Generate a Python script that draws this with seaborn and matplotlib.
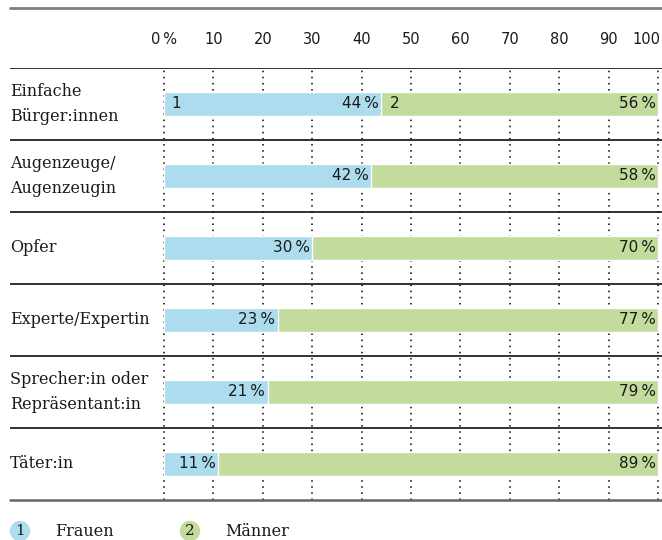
import matplotlib
matplotlib.use("Agg")
import matplotlib.pyplot as plt
import seaborn as sns
import pandas as pd

# data
categories = ["Einfache\nBürger:innen", "Augenzeuge/\nAugenzeugin", "Opfer",
              "Experte/Expertin", "Sprecher:in oder\nRepräsentant:in", "Täter:in"]
frauen = [44, 42, 30, 23, 21, 11]
maenner = [56, 58, 70, 77, 79, 89]
ticks = [0, 10, 20, 30, 40, 50, 60, 70, 80, 90, 100]
tick_labels = ["0\u2009%", "10", "20", "30", "40", "50", "60", "70", "80", "90", "100"]

blue = "#acdcee"
green = "#c3dc9d"
serif = "DejaVu Serif"
sans = "DejaVu Sans"

sns.set_theme(style="white")
W, H = 662, 540
fig = plt.figure(figsize=(W / 100, H / 100), dpi=100)

# axes: x from 10px to 662px, y from 68px to 500px
ax = fig.add_axes([10 / W, 1 - 500 / H, 652 / W, 432 / H])
px = 494 / 100  # pixels per unit
x_left = -154 / px

df = pd.DataFrame({"cat": categories, "frauen": frauen, "maenner": maenner})
df["total"] = df["frauen"] + df["maenner"]

# dotted grid
for t in ticks:
    ax.axvline(t, color="black", lw=1.1, ls=(0, (1, 3)), zorder=0)

sns.barplot(data=df, y="cat", x="total", orient="h", color=green, width=0.32,
            saturation=1, ax=ax, zorder=2)
sns.barplot(data=df, y="cat", x="frauen", orient="h", color=blue, width=0.32,
            saturation=1, ax=ax, zorder=3)
ax.set_xlim(x_left, 100 + 4 / px)
ax.set_ylim(5.5, -0.5)

for i, (f, m) in enumerate(zip(frauen, maenner)):
    ax.text(f - 0.5, i, f"{f}\u2009%", ha="right", va="center", fontsize=11,
            family=sans, color="#1a1a1a", zorder=5)
    ax.text(99.6, i, f"{m}\u2009%", ha="right", va="center", fontsize=11,
            family=sans, color="#1a1a1a", zorder=5)
    ax.text(x_left, i, categories[i], ha="left", va="center", fontsize=11.5,
            family=serif, color="#1a1a1a", linespacing=1.55)
ax.text(1.5, 0, "1", ha="left", va="center", fontsize=11, family=sans, color="#1a1a1a", zorder=5)
ax.text(frauen[0] + 1.8, 0, "2", ha="left", va="center", fontsize=11, family=sans, color="#1a1a1a", zorder=5)

# row separators
for y in [-0.5, 0.5, 1.5, 2.5, 3.5, 4.5]:
    ax.axhline(y, color="#111111", lw=1.2, zorder=4)
ax.axhline(5.5, color="#666666", lw=1.8, zorder=4, clip_on=False)

# tick labels on top
for t, lab in zip(ticks, tick_labels):
    if t == 100:
        ax.text(100 + 2 / px, -0.5 - 28 / 72, lab, ha="right", va="center",
                fontsize=10.5, family=sans, color="#1a1a1a")
    else:
        ax.text(t, -0.5 - 28 / 72, lab, ha="center", va="center", fontsize=10.5,
                family=sans, color="#1a1a1a")

ax.set_xticks([])
ax.set_yticks([])
ax.set_xlabel("")
ax.set_ylabel("")
for s in ax.spines.values():
    s.set_visible(False)

# top gray rule
fig.add_artist(plt.Line2D([10 / W, 1], [1 - 8 / H, 1 - 8 / H], color="#808080", lw=2))

# legend
for cx, num, col, lab in [(20, "1", blue, "Frauen"), (190, "2", green, "Männer")]:
    fig.add_artist(matplotlib.patches.Ellipse((cx / W, 1 - 531 / H), 19 / W, 19 / H,
                                              color=col, transform=fig.transFigure))
    fig.text(cx / W, 1 - 531 / H, num, ha="center", va="center", fontsize=11,
             family=serif, color="#1a1a1a")
    fig.text((cx + 35) / W, 1 - 531 / H, lab, ha="left", va="center", fontsize=11.5,
             family=serif, color="#1a1a1a")

fig.savefig("out.png", dpi=100)
